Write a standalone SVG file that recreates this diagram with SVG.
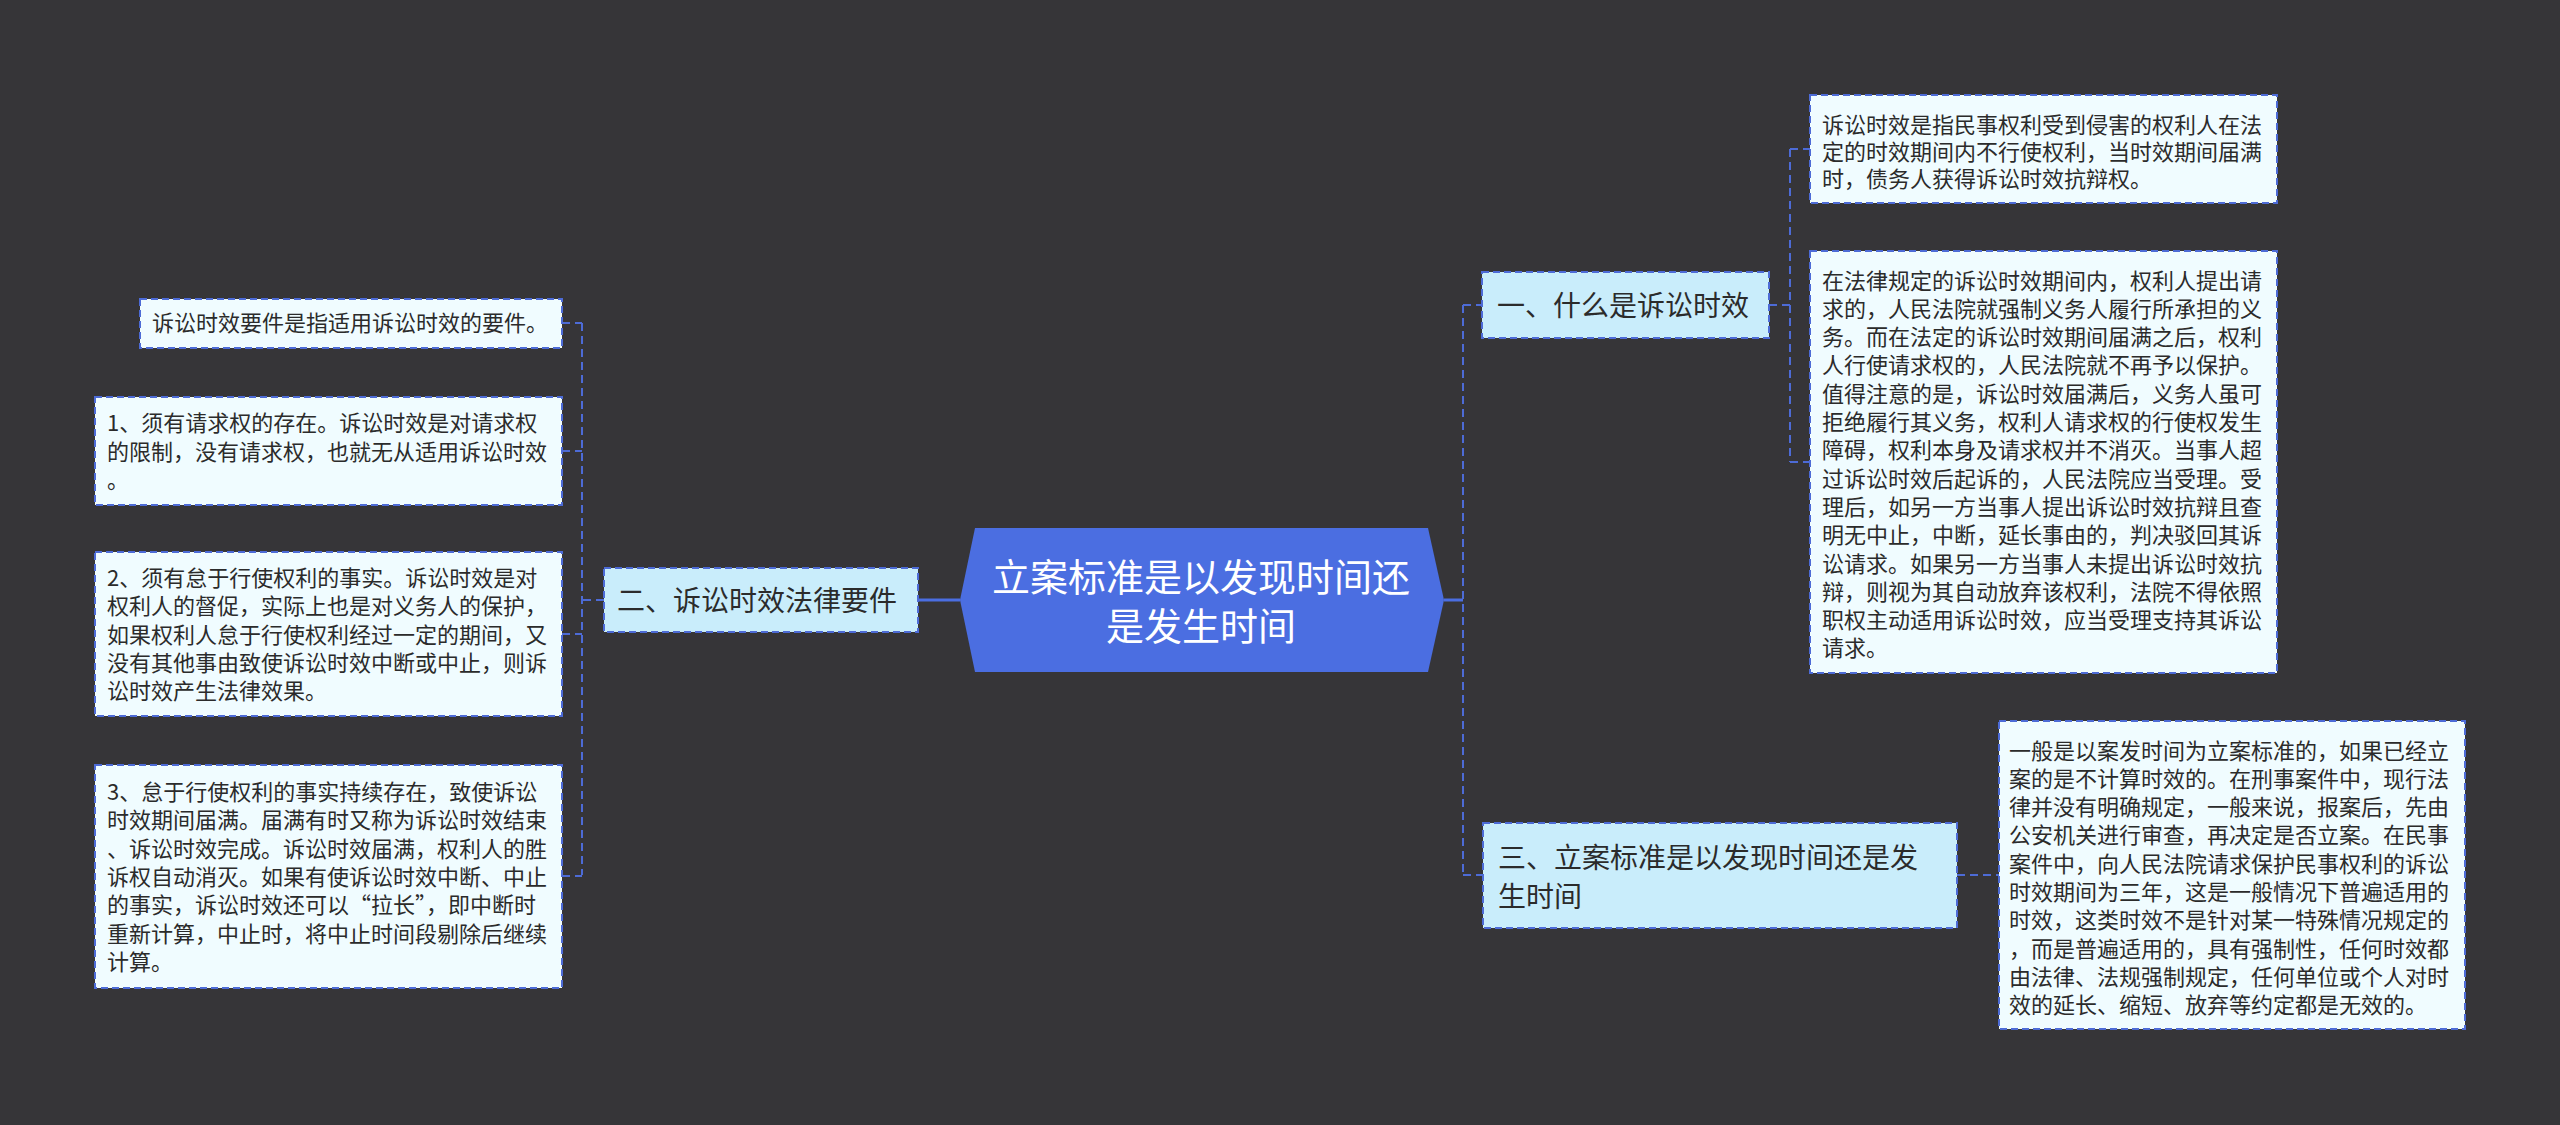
<svg xmlns="http://www.w3.org/2000/svg" width="2560" height="1125" viewBox="0 0 2560 1125">
<style>
.bg{fill:#363538}
.leaf{fill:#f0fcff;stroke:#4d6bd6;stroke-width:2;stroke-dasharray:7 4}
.branch{fill:#c9edfb;stroke:#4d6bd6;stroke-width:2;stroke-dasharray:7 4}
.root{fill:#4b6ee1}
.t22{font-family:"Noto Sans CJK SC","Noto Sans",sans-serif;font-size:22px;fill:#2b2b2b}
.t28{font-family:"Noto Sans CJK SC","Noto Sans",sans-serif;font-size:28px;fill:#2b2b2b}
.t38{font-family:"Noto Sans CJK SC","Noto Sans",sans-serif;font-size:38px;fill:#ffffff;text-anchor:middle}
.dash{fill:none;stroke:#4d6bd6;stroke-width:2;stroke-dasharray:8 5}
.solid{fill:none;stroke:#4b6ee1;stroke-width:3}
</style>
<rect class="bg" x="0" y="0" width="2560" height="1125"/>

<g id="connectors">
  <line class="solid" x1="918" y1="600" x2="960" y2="600"/>
  <line class="solid" x1="1444" y1="600" x2="1463" y2="600"/>
  <path class="dash" d="M604 600 H582 M582 323 V875 M562 323 H582 M562 451 H582 M562 634 H582 M562 876 H582"/>
  <path class="dash" d="M1463 305 V875 M1463 305 H1482 M1463 875 H1482"/>
  <path class="dash" d="M1769 305 H1790 M1790 149 V462 M1790 149 H1810 M1790 462 H1810"/>
  <path class="dash" d="M1957 875 H1999"/>
</g>

<g id="root">
  <polygon class="root" points="960,600 975,528 1428,528 1444,600 1428,672 975,672"/>
  <text class="t38" x="1201" y="591">立案标准是以发现时间还</text>
  <text class="t38" x="1201" y="640">是发生时间</text>
</g>

<g id="branch-2">
  <rect class="branch" x="604" y="568" width="314" height="64"/>
  <text class="t28" x="617" y="611">二、诉讼时效法律要件</text>
</g>

<g id="leaf-2-0">
  <rect class="leaf" x="140" y="299" width="422" height="49"/>
  <text class="t22" x="152" y="331">诉讼时效要件是指适用诉讼时效的要件。</text>
</g>

<g id="leaf-2-1">
  <rect class="leaf" x="95" y="397" width="467" height="108"/>
  <text class="t22" x="107"><tspan x="107" y="431">1、须有请求权的存在。诉讼时效是对请求权</tspan><tspan x="107" y="459.5">的限制，没有请求权，也就无从适用诉讼时效</tspan><tspan x="107" y="488">。</tspan></text>
</g>

<g id="leaf-2-2">
  <rect class="leaf" x="95" y="552" width="467" height="164"/>
  <text class="t22"><tspan x="107" y="586">2、须有怠于行使权利的事实。诉讼时效是对</tspan><tspan x="107" y="614.3">权利人的督促，实际上也是对义务人的保护，</tspan><tspan x="107" y="642.6">如果权利人怠于行使权利经过一定的期间，又</tspan><tspan x="107" y="670.9">没有其他事由致使诉讼时效中断或中止，则诉</tspan><tspan x="107" y="699.2">讼时效产生法律效果。</tspan></text>
</g>

<g id="leaf-2-3">
  <rect class="leaf" x="95" y="765" width="467" height="223"/>
  <text class="t22"><tspan x="107" y="800">3、怠于行使权利的事实持续存在，致使诉讼</tspan><tspan x="107" y="828.3">时效期间届满。届满有时又称为诉讼时效结束</tspan><tspan x="107" y="856.6">、诉讼时效完成。诉讼时效届满，权利人的胜</tspan><tspan x="107" y="884.9">诉权自动消灭。如果有使诉讼时效中断、中止</tspan><tspan x="107" y="913.2">的事实，诉讼时效还可以“拉长”，即中断时</tspan><tspan x="107" y="941.5">重新计算，中止时，将中止时间段剔除后继续</tspan><tspan x="107" y="969.8">计算。</tspan></text>
</g>

<g id="branch-1">
  <rect class="branch" x="1482" y="272" width="287" height="66"/>
  <text class="t28" x="1497" y="316">一、什么是诉讼时效</text>
</g>

<g id="leaf-1-1">
  <rect class="leaf" x="1810" y="95" width="467" height="108"/>
  <text class="t22"><tspan x="1822" y="133">诉讼时效是指民事权利受到侵害的权利人在法</tspan><tspan x="1822" y="160">定的时效期间内不行使权利，当时效期间届满</tspan><tspan x="1822" y="187">时，债务人获得诉讼时效抗辩权。</tspan></text>
</g>

<g id="leaf-1-2">
  <rect class="leaf" x="1810" y="251" width="467" height="422"/>
  <text class="t22"><tspan x="1822" y="288.5">在法律规定的诉讼时效期间内，权利人提出请</tspan><tspan x="1822" y="316.8">求的，人民法院就强制义务人履行所承担的义</tspan><tspan x="1822" y="345.1">务。而在法定的诉讼时效期间届满之后，权利</tspan><tspan x="1822" y="373.4">人行使请求权的，人民法院就不再予以保护。</tspan><tspan x="1822" y="401.7">值得注意的是，诉讼时效届满后，义务人虽可</tspan><tspan x="1822" y="430">拒绝履行其义务，权利人请求权的行使权发生</tspan><tspan x="1822" y="458.3">障碍，权利本身及请求权并不消灭。当事人超</tspan><tspan x="1822" y="486.6">过诉讼时效后起诉的，人民法院应当受理。受</tspan><tspan x="1822" y="514.9">理后，如另一方当事人提出诉讼时效抗辩且查</tspan><tspan x="1822" y="543.2">明无中止，中断，延长事由的，判决驳回其诉</tspan><tspan x="1822" y="571.5">讼请求。如果另一方当事人未提出诉讼时效抗</tspan><tspan x="1822" y="599.8">辩，则视为其自动放弃该权利，法院不得依照</tspan><tspan x="1822" y="628.1">职权主动适用诉讼时效，应当受理支持其诉讼</tspan><tspan x="1822" y="656.4">请求。</tspan></text>
</g>

<g id="branch-3">
  <rect class="branch" x="1483" y="823" width="474" height="105"/>
  <text class="t28"><tspan x="1498" y="868">三、立案标准是以发现时间还是发</tspan><tspan x="1498" y="907">生时间</tspan></text>
</g>

<g id="leaf-3-1">
  <rect class="leaf" x="1999" y="721" width="466" height="308"/>
  <text class="t22"><tspan x="2009" y="758.5">一般是以案发时间为立案标准的，如果已经立</tspan><tspan x="2009" y="786.8">案的是不计算时效的。在刑事案件中，现行法</tspan><tspan x="2009" y="815.1">律并没有明确规定，一般来说，报案后，先由</tspan><tspan x="2009" y="843.4">公安机关进行审查，再决定是否立案。在民事</tspan><tspan x="2009" y="871.7">案件中，向人民法院请求保护民事权利的诉讼</tspan><tspan x="2009" y="900">时效期间为三年，这是一般情况下普遍适用的</tspan><tspan x="2009" y="928.3">时效，这类时效不是针对某一特殊情况规定的</tspan><tspan x="2009" y="956.6">，而是普遍适用的，具有强制性，任何时效都</tspan><tspan x="2009" y="984.9">由法律、法规强制规定，任何单位或个人对时</tspan><tspan x="2009" y="1013.2">效的延长、缩短、放弃等约定都是无效的。</tspan></text>
</g>
</svg>
